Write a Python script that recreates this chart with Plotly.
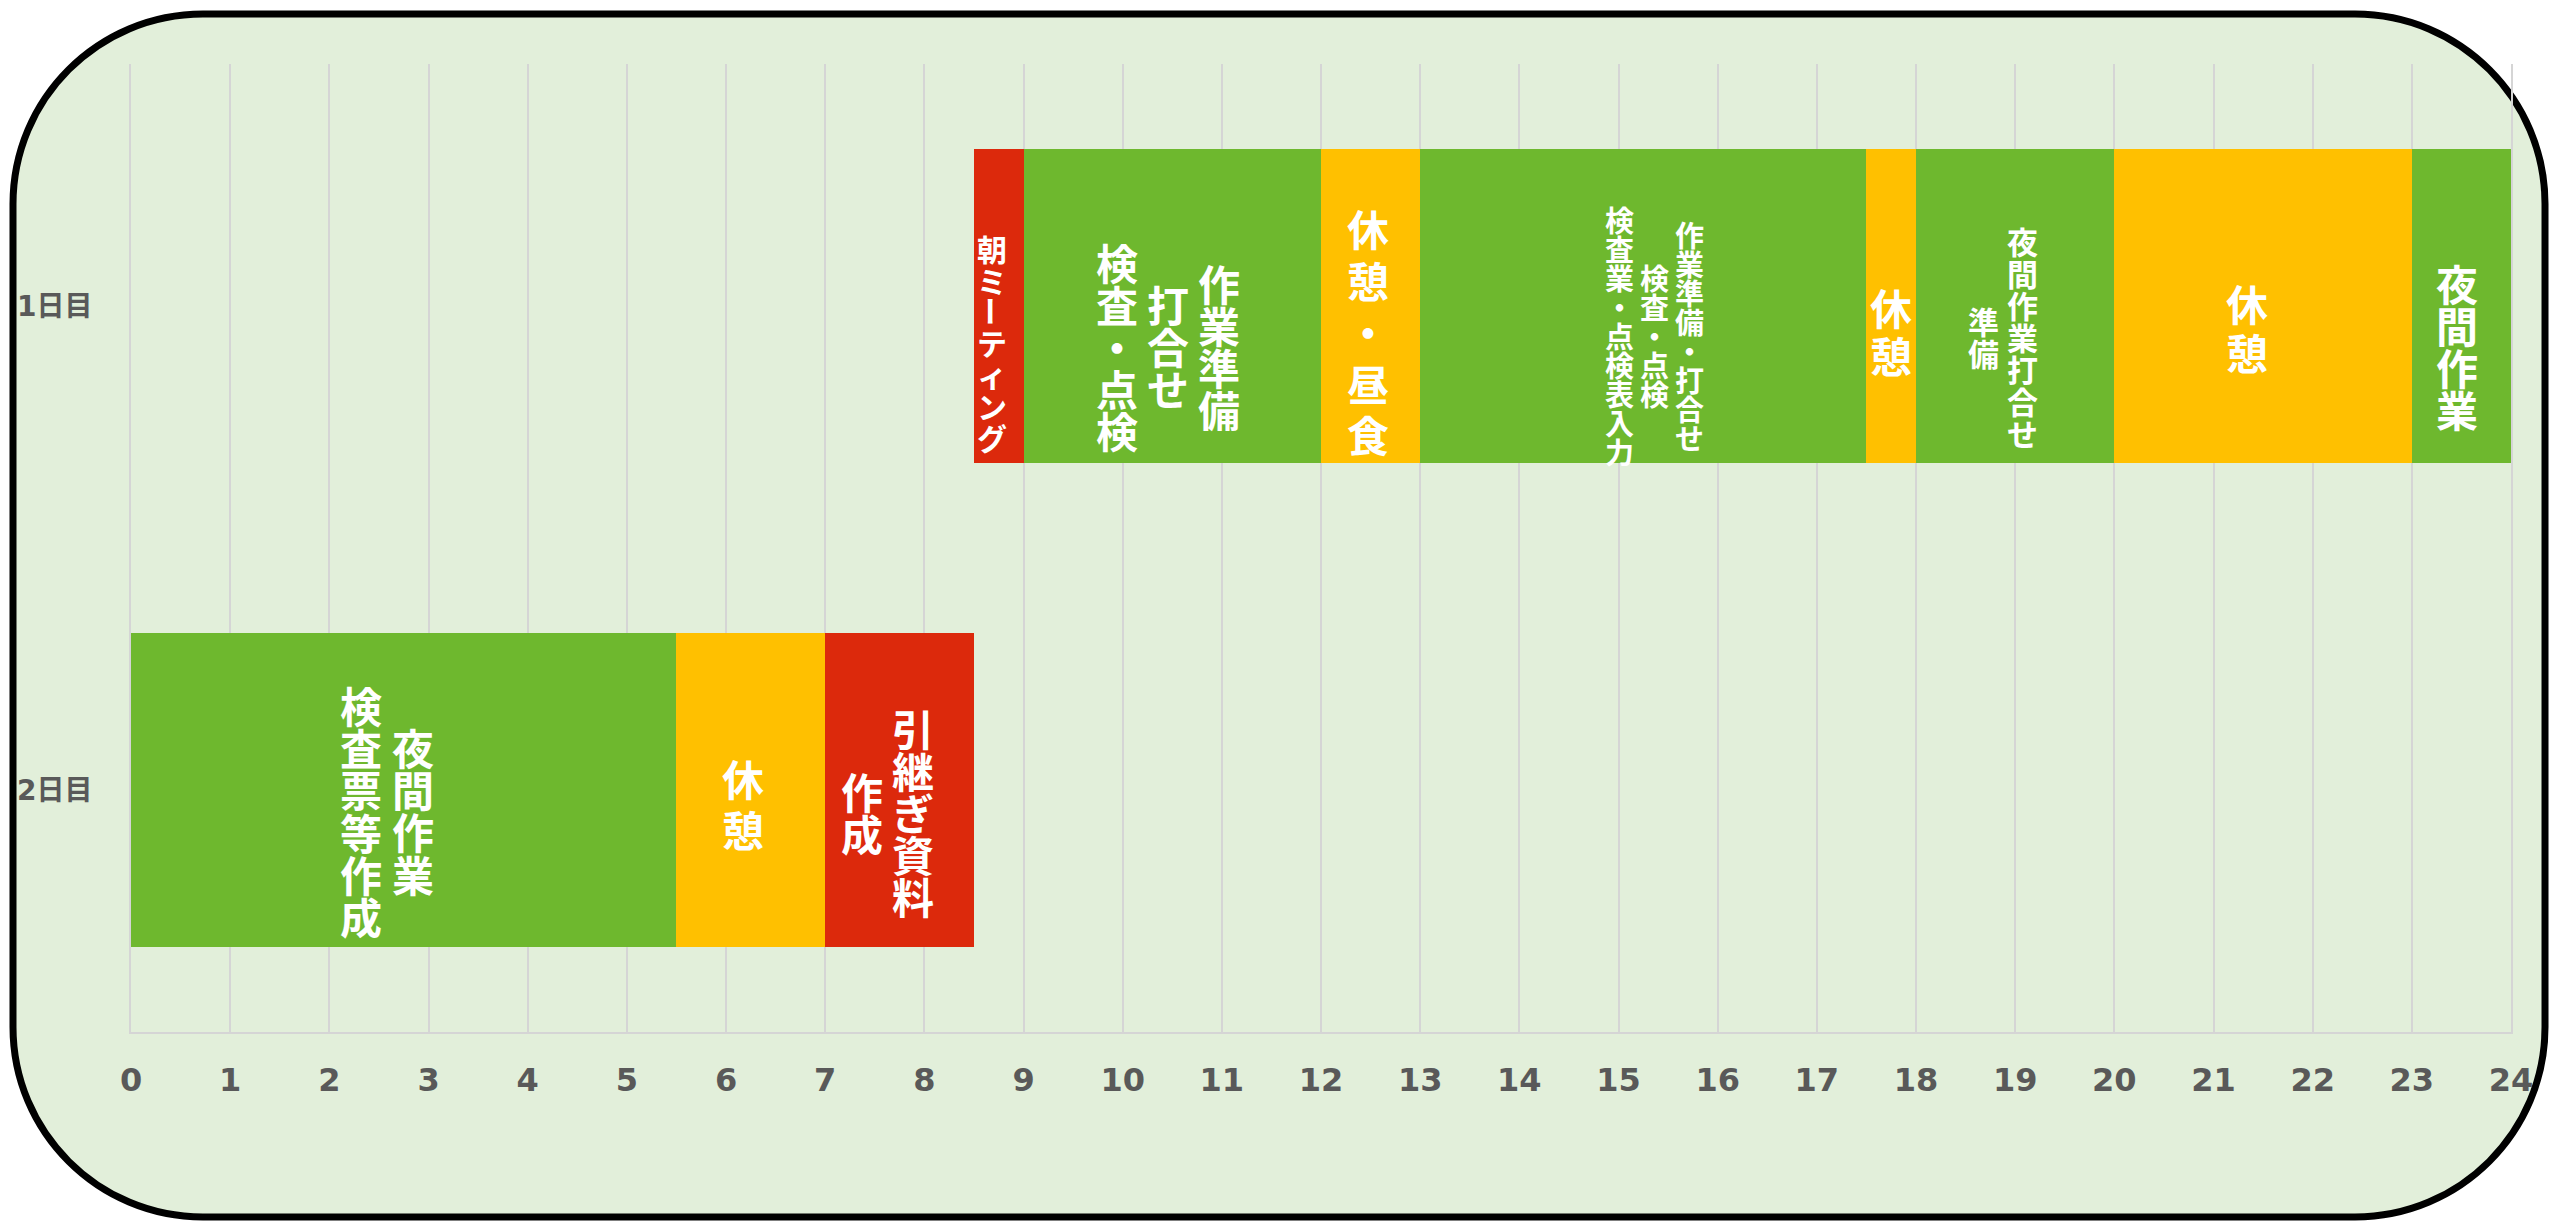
import plotly.graph_objects as go

# ---------------- data ----------------
days = ["1日目", "2日目"]
task_day = ["1日目"] * 8 + ["2日目"] * 3
task_start = [8.5, 9, 12, 13, 17.5, 18, 20, 23, 0, 5.5, 7]
task_hours = [0.5, 3, 1, 4.5, 0.5, 2, 3, 1, 5.5, 1.5, 1.5]
task_kind = ["会議", "作業", "休憩", "作業", "休憩", "作業", "休憩", "作業",
             "作業", "休憩", "会議"]
# vertical labels; "\n" separates columns (right-most column first)
task_label = [
    "朝ミーティング",
    "作業準備\n打合せ\n検査・点検",
    "休憩・昼食",
    "作業準備・打合せ\n検査・点検\n検査業・点検表入力",
    "休憩",
    "夜間作業打合せ\n準備",
    "休憩",
    "夜間作業",
    "夜間作業\n検査票等作成",
    "休憩",
    "引継ぎ資料\n作成",
]
hour_ticks = list(range(0, 25))

# ---------------- style ----------------
kind_color = {"会議": "#DC290C", "作業": "#6EB82E", "休憩": "#FFC000"}
lab_size = [30, 42, 42, 29, 42, 31, 42, 42, 42, 42, 42]
lab_pitch = [31.5, 42, 51.5, 29, 48, 32, 49, 42, 42.2, 51, 42]
lab_gap = [0, 51, 0, 35, 0, 39, 0, 0, 52, 0, 51]
lab_dx = [-7, -4, -3, 11, 0, -12.5, -16, -4.5, -16.7, -8, -12]
lab_dy = [36.5, 39, 24, 29, 24, 30, 20.5, 39, 20, 12.5, 21]

W, H = 2552, 1221
ML, MR, MT, MB = 131, 41, 64, 189
PW, PH = W - ML - MR, H - MT - MB

CJK = "Noto Sans CJK JP"
GRID = "#D5D5D5"
TXT = "#595959"
LS = 1.3  # plotly line spacing (em)

fig = go.Figure()
fig.add_trace(go.Bar(
    y=task_day, x=task_hours, base=task_start, orientation="h",
    marker=dict(color=[kind_color[k] for k in task_kind], line=dict(width=0)),
    width=0.648, hoverinfo="skip", showlegend=False,
))


def segments(col):
    """split a column so that the long-vowel mark can be turned upright."""
    segs, cur, start = [], "", 0
    for idx, ch in enumerate(col):
        if ch == "ー":
            if cur:
                segs.append((cur, start, False))
            segs.append((ch, idx, True))
            cur, start = "", idx + 1
        else:
            if not cur:
                start = idx
            cur += ch
    if cur:
        segs.append((cur, start, False))
    return segs


# vertical text labels: one annotation per column (segment)
for i, lab in enumerate(task_label):
    cx = task_start[i] + task_hours[i] / 2
    cols = lab.split("\n")
    nc = len(cols)
    fs, pitch = lab_size[i], lab_pitch[i]
    for j, col in enumerate(cols):
        xs = lab_dx[i] + ((nc - 1) / 2 - j) * lab_gap[i]
        n = len(col)
        for seg, a, rot in segments(col):
            mid = a + (len(seg) - 1) / 2
            ys = -(lab_dy[i] + (mid - (n - 1) / 2) * pitch)
            if rot:
                txt = seg
                font = dict(family=CJK, size=fs, color="white", weight="bold")
            else:
                txt = "<br>".join(
                    f"<span style='font-size:{fs}px'>{c}</span>" for c in seg)
                font = dict(family=CJK, size=pitch / LS, color="white", weight="bold")
            fig.add_annotation(
                x=cx, y=task_day[i], xref="x", yref="y", text=txt,
                showarrow=False, xshift=xs, yshift=ys,
                xanchor="center", yanchor="middle", align="center",
                textangle=90 if rot else 0, font=font,
            )


# rounded background frame (pixel -> paper coords)
def px(x):
    return (x - ML) / PW


def py(y):
    return (H - MB - y) / PH


L, R, T, B, r = 13, 2545, 14, 1217, 190
kk = 0.5523 * r


def P(x, y):
    return f"{px(x):.5f},{py(y):.5f}"


path = (
    f"M {P(L + r, T)} L {P(R - r, T)} "
    f"C {P(R - r + kk, T)} {P(R, T + r - kk)} {P(R, T + r)} "
    f"L {P(R, B - r)} "
    f"C {P(R, B - r + kk)} {P(R - r + kk, B)} {P(R - r, B)} "
    f"L {P(L + r, B)} "
    f"C {P(L + r - kk, B)} {P(L, B - r + kk)} {P(L, B - r)} "
    f"L {P(L, T + r)} "
    f"C {P(L, T + r - kk)} {P(L + r - kk, T)} {P(L + r, T)} Z"
)
fig.add_shape(type="path", path=path, xref="paper", yref="paper", layer="below",
              fillcolor="#E2EFDA", line=dict(color="black", width=7))

fig.update_layout(
    width=W, height=H,
    margin=dict(l=ML, r=MR, t=MT, b=MB, pad=0),
    paper_bgcolor="white", plot_bgcolor="rgba(0,0,0,0)",
    bargap=0, showlegend=False,
    xaxis=dict(
        range=[0, 24], tickmode="array", tickvals=hour_ticks,
        ticktext=[str(h) for h in hour_ticks],
        showgrid=True, gridcolor=GRID, gridwidth=1.6,
        zeroline=False, showline=True, linecolor=GRID, linewidth=1.6,
        ticks="", ticklabelstandoff=19,
        tickfont=dict(family="DejaVu Sans", size=32, color=TXT, weight="bold"),
        fixedrange=True,
    ),
    yaxis=dict(
        type="category", categoryorder="array", categoryarray=days,
        range=[1.5, -0.5], showgrid=False, zeroline=False,
        showline=True, mirror=True, linecolor=GRID, linewidth=1.6,
        ticks="", ticklabelstandoff=31,
        tickfont=dict(family="DejaVu Sans, " + CJK, size=28, color=TXT, weight="bold"),
        fixedrange=True,
    ),
)

fig.write_html("out.html", config={"displayModeBar": False},
               post_script="document.body.style.margin='0';document.body.style.overflow='hidden';")
